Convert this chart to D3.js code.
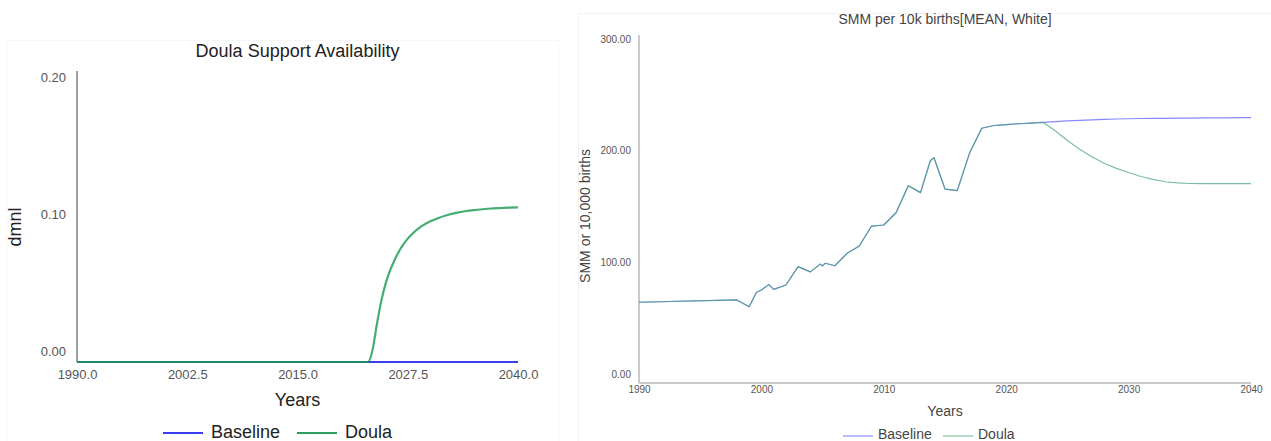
<!DOCTYPE html>
<html>
<head>
<meta charset="utf-8">
<script src="https://cdn.jsdelivr.net/npm/d3@7/dist/d3.min.js"></script>
<style>
  html, body { margin: 0; padding: 0; background: #fff; }
  svg { display: block; font-family: "Liberation Sans", Arial, sans-serif; }
</style>
</head>
<body>
<svg id="chart" width="1271" height="441"></svg>
<script>
// ---- Doula Support Availability (dmnl) ----
const availBaselineYears = [1990, 2040];
const availBaselineValues = [0, 0];
const availDoulaYears = [1990, 2023, 2023.5, 2024, 2024.5, 2025, 2025.5, 2026, 2026.5, 2027, 2027.5,
  2028, 2029, 2030, 2031, 2032, 2033, 2034, 2035, 2036, 2037, 2038, 2039, 2040];
const availDoulaValues = [0, 0, 0.008, 0.026, 0.042, 0.054, 0.063, 0.070, 0.076, 0.0808, 0.0848,
  0.0880, 0.0930, 0.0965, 0.0990, 0.1010, 0.1025, 0.1036, 0.1044, 0.1050, 0.1055, 0.1058, 0.1061, 0.1063];
const availXTicks = [1990, 2002.5, 2015, 2027.5, 2040];
const availYTicks = [0, 0.1, 0.2];

// ---- SMM per 10k births [MEAN, White] ----
const smmHistYears = [1990, 1998, 1999, 1999.6, 2000, 2000.6, 2001, 2002, 2003, 2004, 2004.8,
  2005, 2005.2, 2006, 2007, 2008, 2009, 2010, 2011, 2012, 2013, 2013.8, 2014.1, 2015, 2016,
  2017, 2018, 2019, 2020, 2021, 2022, 2023];
const smmHistValues = [69.6, 71.6, 65.8, 78.2, 80.2, 84.8, 80.7, 84.5, 100.3, 95.8, 102.5,
  100.9, 103.2, 101.1, 111.8, 118.1, 135.3, 136.2, 146.8, 170.1, 164.1, 191.6, 194.2, 167.2, 165.8,
  198.0, 219.6, 222.0, 222.8, 223.5, 224.1, 224.7];
const smmProjYears = [2024, 2025, 2026, 2027, 2028, 2029, 2030, 2031, 2032, 2033, 2034, 2035,
  2036, 2037, 2038, 2039, 2040];
const smmBaselineProj = [225.3, 225.9, 226.4, 226.9, 227.3, 227.6, 227.8, 228.0, 228.1, 228.2,
  228.3, 228.4, 228.5, 228.6, 228.6, 228.7, 228.7];
const smmDoulaProj = [217.5, 209.0, 201.5, 195.0, 189.5, 185.0, 181.5, 178.0, 175.5, 173.5,
  172.5, 172.0, 171.9, 171.8, 171.8, 171.8, 171.8];
const smmXTicks = [1990, 2000, 2010, 2020, 2030, 2040];
const smmYTicks = [0, 100, 200, 300];

const seriesNames = ["Baseline", "Doula"];

const svg = d3.select("#chart");
const zip = (xs, ys) => xs.map((x, i) => ({ x, y: ys[i] }));

// faint panel frames
svg.append("rect").attr("x", 6.5).attr("y", 40.5).attr("width", 552).attr("height", 420)
  .attr("fill", "none").attr("stroke", "#f6f6f6");
svg.append("rect").attr("x", 578.5).attr("y", 13.5).attr("width", 700).attr("height", 440)
  .attr("fill", "none").attr("stroke", "#f2f2f2");

// ================= Left panel =================
(function () {
  const x = d3.scaleLinear().domain([1990, 2040]).range([77, 518]);
  const y = d3.scaleLinear().domain([0, 0.2]).range([362, 71]);
  const yLab = d3.scaleLinear().domain([0, 0.2]).range([351, 77]);
  const g = svg.append("g");

  g.append("text").attr("x", 297.5).attr("y", 51).attr("dy", "0.35em")
    .attr("text-anchor", "middle").attr("font-size", 18).attr("fill", "#222")
    .text("Doula Support Availability");

  // y axis line
  g.append("line").attr("x1", 77).attr("x2", 77).attr("y1", y(0.2)).attr("y2", y(0))
    .attr("stroke", "#8a8a8a").attr("stroke-width", 1.6);

  // y tick labels
  const yAxis = g.append("g").attr("transform", "translate(66,0)")
    .call(d3.axisLeft(yLab).tickValues(availYTicks).tickSize(0).tickPadding(0).tickFormat(d3.format(".2f")));
  yAxis.select(".domain").remove();
  yAxis.selectAll("text").attr("font-size", 13).attr("fill", "#555")
    .attr("font-family", "'Liberation Sans', Arial, sans-serif");

  // x tick labels
  const xAxis = g.append("g").attr("transform", "translate(0,370)")
    .call(d3.axisBottom(x).tickValues(availXTicks).tickSize(0).tickPadding(0).tickFormat(d3.format(".1f")));
  xAxis.select(".domain").remove();
  xAxis.selectAll("text").attr("font-size", 13).attr("fill", "#555")
    .attr("font-family", "'Liberation Sans', Arial, sans-serif");

  g.append("text").attr("x", 297.5).attr("y", 400).attr("dy", "0.35em")
    .attr("text-anchor", "middle").attr("font-size", 18).attr("fill", "#222").text("Years");
  g.append("text").attr("transform", "translate(15,227) rotate(-90)").attr("dy", "0.35em")
    .attr("text-anchor", "middle").attr("font-size", 18).attr("fill", "#222").text("dmnl");

  const line = d3.line().x(d => x(d.x)).y(d => y(d.y)).curve(d3.curveMonotoneX);
  g.append("path").datum(zip(availBaselineYears, availBaselineValues))
    .attr("d", line).attr("fill", "none").attr("stroke", "#3c3cf0").attr("stroke-width", 2.2);
  g.append("path").datum(zip(availDoulaYears, availDoulaValues))
    .attr("d", line).attr("fill", "none").attr("stroke", "#17994f").attr("stroke-opacity", 0.8)
    .attr("stroke-width", 2.2);

  // legend
  const colors = ["#3c3cf0", "#2e9e5e"];
  const lx = [163, 297];
  seriesNames.forEach((n, i) => {
    g.append("line").attr("x1", lx[i]).attr("x2", lx[i] + 40).attr("y1", 433).attr("y2", 433)
      .attr("stroke", colors[i]).attr("stroke-width", 2);
    g.append("text").attr("x", lx[i] + 48).attr("y", 432).attr("dy", "0.32em")
      .attr("font-size", 18).attr("fill", "#222").text(n);
  });
})();

// ================= Right panel =================
(function () {
  const x = d3.scaleLinear().domain([1990, 2040]).range([639, 1251]);
  const y = d3.scaleLinear().domain([0, 300]).range([383, 35]);
  const yLab = d3.scaleLinear().domain([0, 300]).range([374, 39]);
  const g = svg.append("g");

  g.append("text").attr("x", 945).attr("y", 19).attr("dy", "0.35em")
    .attr("text-anchor", "middle").attr("font-size", 14).attr("fill", "#444")
    .text("SMM per 10k births[MEAN, White]");

  g.append("line").attr("x1", 639).attr("x2", 639).attr("y1", y(300)).attr("y2", y(0))
    .attr("stroke", "#bdbdbd").attr("stroke-width", 1.6);
  g.append("line").attr("x1", 639).attr("x2", 1251).attr("y1", 383).attr("y2", 383)
    .attr("stroke", "#c8c8c8").attr("stroke-width", 2);

  const yAxis = g.append("g").attr("transform", "translate(631,0)")
    .call(d3.axisLeft(yLab).tickValues(smmYTicks).tickSize(0).tickPadding(0).tickFormat(d3.format(".2f")));
  yAxis.select(".domain").remove();
  yAxis.selectAll("text").attr("font-size", 10).attr("fill", "#555")
    .attr("font-family", "'Liberation Sans', Arial, sans-serif");

  const xAxis = g.append("g").attr("transform", "translate(0,386)")
    .call(d3.axisBottom(x).tickValues(smmXTicks).tickSize(0).tickPadding(0).tickFormat(d3.format("d")));
  xAxis.select(".domain").remove();
  xAxis.selectAll("text").attr("font-size", 10).attr("fill", "#555")
    .attr("font-family", "'Liberation Sans', Arial, sans-serif");

  g.append("text").attr("x", 945).attr("y", 411).attr("dy", "0.35em")
    .attr("text-anchor", "middle").attr("font-size", 14).attr("fill", "#444").text("Years");
  g.append("text").attr("transform", "translate(585,216) rotate(-90)").attr("dy", "0.35em")
    .attr("text-anchor", "middle").attr("font-size", 14).attr("fill", "#444").text("SMM or 10,000 births");

  // historical segment is piecewise linear; projections are drawn from annual points
  const line = d3.line().x(d => x(d.x)).y(d => y(d.y));
  const baseline = zip(smmHistYears.concat(smmProjYears), smmHistValues.concat(smmBaselineProj));
  const doula = zip(smmHistYears.concat(smmProjYears), smmHistValues.concat(smmDoulaProj));
  g.append("path").datum(baseline).attr("d", line).attr("fill", "none")
    .attr("stroke", "#5555ff").attr("stroke-opacity", 0.7).attr("stroke-width", 1.2)
    .attr("stroke-linejoin", "round");
  g.append("path").datum(doula).attr("d", line).attr("fill", "none")
    .attr("stroke", "#45a275").attr("stroke-opacity", 0.7).attr("stroke-width", 1.2)
    .attr("stroke-linejoin", "round");

  const colors = ["#8c8cff", "#88c0a0"];
  const lx = [843, 943];
  seriesNames.forEach((n, i) => {
    g.append("line").attr("x1", lx[i]).attr("x2", lx[i] + 30).attr("y1", 436).attr("y2", 436)
      .attr("stroke", colors[i]).attr("stroke-width", 1.2);
    g.append("text").attr("x", lx[i] + 35).attr("y", 435).attr("dy", "0.32em")
      .attr("font-size", 14).attr("fill", "#444").text(n);
  });
})();
</script>
</body>
</html>
